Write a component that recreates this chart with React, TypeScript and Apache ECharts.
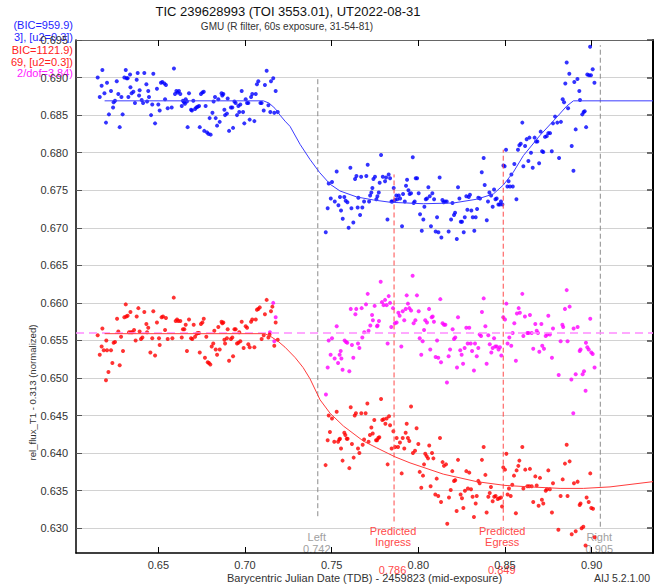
import React, { useEffect, useRef } from 'react';
import * as echarts from 'echarts';

const TITLE = 'TIC 239628993 (TOI 3553.01), UT2022-08-31';
const SUBTITLE = 'GMU (R filter, 60s exposure, 31-54-81)';
const X_NAME = 'Barycentric Julian Date (TDB) - 2459823 (mid-exposure)';
const Y_NAME = 'rel_flux_T1 - 0.313 (normalized)';
const VERSION = 'AIJ 5.2.1.00';

const X_TICKS = [0.65, 0.7, 0.75, 0.8, 0.85, 0.9];
const Y_TICKS = [0.63, 0.635, 0.64, 0.645, 0.65, 0.655, 0.66, 0.665, 0.67, 0.675, 0.68, 0.685, 0.69, 0.695];
const X_RANGE = [0.6025, 0.9354];
const Y_RANGE = [0.6267, 0.695];
const RESIDUAL_BASELINE = 0.656;

const LEGEND_LINES = [
  { text: '(BIC=959.9)', color: '#1f1fff' },
  { text: '3], [u2=0.3])', color: '#1f1fff' },
  { text: 'BIC=1121.9)', color: '#ff2020' },
  { text: '69, [u2=0.3])', color: '#ff2020' },
  { text: '2/dof=3.84)', color: '#ff20ff' },
];

// vertical markers: time, label lines, line extent (flux)
const MARKERS = [
  { t: 0.742, kind: 'edge', label: ['Left', '0.742'], lo: 0.6316, hi: 0.69 },
  { t: 0.786, kind: 'pred', label: ['Predicted', 'Ingress'], value: '0.786', lo: 0.6309, hi: 0.6771 },
  { t: 0.849, kind: 'pred', label: ['Predicted', 'Egress'], value: '0.849', lo: 0.631, hi: 0.6804 },
  { t: 0.905, kind: 'edge', label: ['Right', '0.905'], lo: 0.6302, hi: 0.6943 },
];

const BLUE_MODEL: [number, number][] = [
  [0.619, 0.6869], [0.7106, 0.6869], [0.7139, 0.6866], [0.7173, 0.6859], [0.7202, 0.685], [0.7231, 0.6842],
  [0.726, 0.6835], [0.7318, 0.6811], [0.7375, 0.6791], [0.7429, 0.6774], [0.7491, 0.6758], [0.7548, 0.6749],
  [0.7645, 0.6741], [0.7741, 0.6737], [0.7837, 0.6734], [0.8029, 0.6732], [0.8202, 0.6733], [0.8337, 0.6738],
  [0.8433, 0.6745], [0.8491, 0.6757], [0.8548, 0.6774], [0.8606, 0.6796], [0.8702, 0.6823], [0.8798, 0.6847],
  [0.8856, 0.6862], [0.8895, 0.6869], [0.9354, 0.6869],
];

const RED_MODEL: [number, number][] = [
  [0.619, 0.6559], [0.7115, 0.6559], [0.715, 0.6555], [0.719, 0.6549], [0.7231, 0.6541], [0.729, 0.6527],
  [0.7335, 0.6514], [0.7375, 0.6499], [0.7433, 0.6471], [0.7491, 0.6453], [0.7568, 0.6436], [0.7683, 0.6416],
  [0.776, 0.6407], [0.7866, 0.6395], [0.7952, 0.6387], [0.8144, 0.6372], [0.8337, 0.6362], [0.85, 0.6357],
  [0.8645, 0.6355], [0.8818, 0.6353], [0.8952, 0.6353], [0.9106, 0.6355], [0.9354, 0.6362],
];

const BLUE_PTS: [number, number][] = [
  [0.615, 0.69], [0.6162, 0.6874], [0.6173, 0.6889], [0.6177, 0.691], [0.6189, 0.6879], [0.6198, 0.684], [0.6204, 0.6893],
  [0.6215, 0.6851], [0.6227, 0.6882], [0.6239, 0.686], [0.6242, 0.6867], [0.625, 0.6869], [0.626, 0.6895], [0.6269, 0.6878],
  [0.6277, 0.6834], [0.6287, 0.6874], [0.6294, 0.6851], [0.6304, 0.69], [0.6312, 0.691], [0.6317, 0.6899], [0.6323, 0.6899],
  [0.6327, 0.6874], [0.6337, 0.6904], [0.6339, 0.6887], [0.6346, 0.6879], [0.6356, 0.6881], [0.6365, 0.6866], [0.6375, 0.6897],
  [0.6381, 0.6906], [0.6389, 0.6876], [0.6392, 0.6883], [0.6404, 0.687], [0.6412, 0.6866], [0.6419, 0.6906], [0.6431, 0.6891],
  [0.6435, 0.6868], [0.6442, 0.6882], [0.6446, 0.6874], [0.6458, 0.685], [0.6465, 0.6864], [0.6471, 0.6905], [0.6481, 0.6839],
  [0.6492, 0.6885], [0.65, 0.6864], [0.6508, 0.6856], [0.6515, 0.6893], [0.6523, 0.6894], [0.6535, 0.6892], [0.6539, 0.6871],
  [0.6544, 0.689], [0.6554, 0.6859], [0.6577, 0.686], [0.659, 0.6912], [0.6596, 0.6878], [0.6604, 0.6882], [0.6612, 0.688],
  [0.6619, 0.6882], [0.6627, 0.6878], [0.6635, 0.6862], [0.6642, 0.6869], [0.6648, 0.6867], [0.6654, 0.6865], [0.6658, 0.6871],
  [0.6665, 0.6868], [0.6669, 0.6834], [0.6677, 0.6879], [0.6689, 0.6857], [0.6694, 0.6856], [0.6702, 0.6869], [0.6712, 0.6858],
  [0.6719, 0.686], [0.6727, 0.6861], [0.6735, 0.6862], [0.6739, 0.6834], [0.6746, 0.6878], [0.6754, 0.688], [0.6762, 0.6881],
  [0.6765, 0.6829], [0.6773, 0.6862], [0.6781, 0.6827], [0.6789, 0.6825], [0.6796, 0.6846], [0.6802, 0.6824], [0.6812, 0.6853],
  [0.6819, 0.6868], [0.6827, 0.6874], [0.6831, 0.6846], [0.6839, 0.6836], [0.6846, 0.6871], [0.6854, 0.6841], [0.6865, 0.6879],
  [0.6869, 0.6876], [0.6875, 0.6878], [0.6881, 0.6857], [0.6885, 0.685], [0.6896, 0.6852], [0.69, 0.6872], [0.6908, 0.6829],
  [0.6919, 0.686], [0.6927, 0.686], [0.6931, 0.6833], [0.6939, 0.6868], [0.6946, 0.6866], [0.6954, 0.685], [0.6962, 0.6862],
  [0.6967, 0.6854], [0.6973, 0.6864], [0.6981, 0.6882], [0.6989, 0.6854], [0.6996, 0.6839], [0.7004, 0.6871], [0.7012, 0.6866],
  [0.7019, 0.6866], [0.7027, 0.6844], [0.7035, 0.6874], [0.7042, 0.6878], [0.7054, 0.6842], [0.7062, 0.6878], [0.7069, 0.6891],
  [0.7077, 0.6895], [0.7089, 0.6866], [0.7096, 0.6866], [0.7108, 0.6856], [0.7115, 0.689], [0.7125, 0.6909], [0.7135, 0.6863],
  [0.7146, 0.6854], [0.715, 0.6895], [0.7163, 0.6899], [0.7169, 0.6853], [0.7177, 0.6882], [0.7189, 0.6854],
  [0.7466, 0.6694], [0.7477, 0.6726], [0.7483, 0.6759], [0.7495, 0.6739], [0.7502, 0.6761], [0.7518, 0.6735], [0.7529, 0.6775],
  [0.7539, 0.673], [0.7548, 0.6741], [0.7554, 0.6723], [0.7564, 0.6712], [0.7573, 0.6741], [0.7581, 0.6736], [0.7591, 0.6734],
  [0.7598, 0.67], [0.7608, 0.678], [0.7614, 0.6726], [0.7625, 0.6707], [0.7635, 0.6765], [0.7643, 0.6769], [0.765, 0.6727],
  [0.7654, 0.674], [0.7664, 0.6717], [0.767, 0.6768], [0.7677, 0.6727], [0.7687, 0.6735], [0.77, 0.6769], [0.7708, 0.6784],
  [0.7716, 0.6735], [0.7722, 0.6743], [0.7729, 0.6747], [0.7735, 0.6753], [0.7741, 0.6765], [0.775, 0.6768], [0.7758, 0.6738],
  [0.7764, 0.6742], [0.7772, 0.6747], [0.7777, 0.676], [0.7785, 0.6797], [0.7795, 0.6768], [0.7808, 0.6762], [0.7814, 0.6767],
  [0.7822, 0.6711], [0.7829, 0.6771], [0.7837, 0.6766], [0.7845, 0.6735], [0.785, 0.6735], [0.7858, 0.6753], [0.7866, 0.6737],
  [0.7873, 0.6743], [0.7879, 0.6738], [0.7887, 0.6743], [0.7895, 0.6739], [0.7906, 0.6702], [0.7912, 0.6745], [0.7922, 0.6735],
  [0.7929, 0.6756], [0.7935, 0.6764], [0.7943, 0.675], [0.795, 0.6745], [0.7958, 0.6746], [0.7968, 0.6794], [0.7973, 0.6733],
  [0.7979, 0.6735], [0.7985, 0.6766], [0.7993, 0.6766], [0.8002, 0.6746], [0.801, 0.6718], [0.802, 0.6696], [0.8029, 0.6711],
  [0.8035, 0.6728], [0.8043, 0.6738], [0.805, 0.6739], [0.8058, 0.6754], [0.8066, 0.6742], [0.8073, 0.6702], [0.8081, 0.6746],
  [0.8091, 0.6738], [0.81, 0.6695], [0.8108, 0.6714], [0.8116, 0.6694], [0.8123, 0.6767], [0.8133, 0.6687], [0.8139, 0.6737],
  [0.8146, 0.6734], [0.8154, 0.6735], [0.8164, 0.6735], [0.8175, 0.6695], [0.8189, 0.6711], [0.8197, 0.6733], [0.8206, 0.6717],
  [0.8212, 0.672], [0.8222, 0.6685], [0.8229, 0.6754], [0.8237, 0.6739], [0.8245, 0.6708], [0.8252, 0.6708], [0.8262, 0.6694],
  [0.8268, 0.6714], [0.8277, 0.6742], [0.8283, 0.6724], [0.8291, 0.6741], [0.8298, 0.6744], [0.8306, 0.6723], [0.8314, 0.6714],
  [0.8323, 0.6696], [0.8331, 0.6714], [0.8339, 0.6725], [0.8346, 0.674], [0.8356, 0.6739], [0.8366, 0.6774], [0.8377, 0.6793],
  [0.8383, 0.6757], [0.8395, 0.671], [0.8402, 0.6735], [0.841, 0.6747], [0.842, 0.6743], [0.8429, 0.6728], [0.8437, 0.6751],
  [0.8445, 0.6738], [0.8452, 0.6739], [0.8462, 0.6731], [0.847, 0.6731], [0.8477, 0.6735], [0.8485, 0.6731], [0.8491, 0.6783],
  [0.8498, 0.6782], [0.8506, 0.6804], [0.8514, 0.6755], [0.8521, 0.6762], [0.8529, 0.6755], [0.8537, 0.6771], [0.8545, 0.6755],
  [0.8554, 0.6785], [0.8566, 0.6738], [0.8575, 0.6804], [0.8583, 0.681], [0.8591, 0.6812], [0.86, 0.684], [0.8606, 0.6782],
  [0.8616, 0.6809], [0.8625, 0.6818], [0.8635, 0.6789], [0.8641, 0.682], [0.865, 0.68], [0.866, 0.678], [0.8671, 0.682],
  [0.8679, 0.6815], [0.8687, 0.6815], [0.8697, 0.6786], [0.8706, 0.6828], [0.8714, 0.6802], [0.8721, 0.6801], [0.8731, 0.6821],
  [0.8741, 0.6822], [0.875, 0.6826], [0.876, 0.6826], [0.877, 0.6802], [0.8777, 0.6839], [0.8789, 0.6848], [0.8802, 0.684],
  [0.8812, 0.6793], [0.8823, 0.6841], [0.8833, 0.6871], [0.8841, 0.6867], [0.8848, 0.6892], [0.8856, 0.692], [0.8864, 0.6859],
  [0.8871, 0.6905], [0.8885, 0.6809], [0.8895, 0.6776], [0.89, 0.6894], [0.8908, 0.6831], [0.8918, 0.6898], [0.8929, 0.6882],
  [0.8933, 0.687], [0.8946, 0.6851], [0.8954, 0.6854], [0.896, 0.6855], [0.8968, 0.6834], [0.8975, 0.6904], [0.8985, 0.6903],
  [0.8991, 0.6941], [0.8996, 0.6903], [0.9006, 0.6911], [0.9016, 0.6893],
];

const RED_PTS: [number, number][] = [
  [0.615, 0.6557], [0.6162, 0.6531], [0.6173, 0.6542], [0.6177, 0.6566], [0.6185, 0.6537], [0.6198, 0.6497], [0.62, 0.655],
  [0.6204, 0.6537], [0.6212, 0.6508], [0.6227, 0.6537], [0.6235, 0.652], [0.6242, 0.6547], [0.625, 0.6548], [0.6262, 0.6579],
  [0.6269, 0.6562], [0.6277, 0.6517], [0.6285, 0.6555], [0.6296, 0.6536], [0.6304, 0.6581], [0.6312, 0.6598], [0.6315, 0.6582],
  [0.6323, 0.6583], [0.6331, 0.6561], [0.6339, 0.6588], [0.6342, 0.6561], [0.635, 0.6561], [0.636, 0.6564], [0.6369, 0.655],
  [0.6375, 0.6582], [0.6385, 0.6593], [0.6392, 0.6562], [0.64, 0.6552], [0.6408, 0.6554], [0.6419, 0.6588], [0.6431, 0.6572],
  [0.6435, 0.6561], [0.6442, 0.6567], [0.6454, 0.6534], [0.6465, 0.6553], [0.6471, 0.6589], [0.6481, 0.653], [0.6492, 0.6574],
  [0.6504, 0.6553], [0.6508, 0.6544], [0.6519, 0.6581], [0.6527, 0.6582], [0.6539, 0.6564], [0.6544, 0.658], [0.6554, 0.6552],
  [0.6581, 0.6553], [0.6589, 0.6607], [0.66, 0.6576], [0.6608, 0.6578], [0.6615, 0.6576], [0.6627, 0.6576], [0.6635, 0.6554],
  [0.6642, 0.6565], [0.665, 0.6565], [0.6658, 0.6571], [0.6665, 0.6536], [0.6677, 0.6578], [0.6689, 0.6553], [0.6696, 0.6552],
  [0.6704, 0.6571], [0.6712, 0.6555], [0.6721, 0.6559], [0.6727, 0.656], [0.6735, 0.656], [0.6739, 0.6534], [0.6746, 0.6572],
  [0.6754, 0.6574], [0.6762, 0.6579], [0.6769, 0.6527], [0.6777, 0.6555], [0.6785, 0.6521], [0.6792, 0.652], [0.68, 0.6518],
  [0.6808, 0.6542], [0.6817, 0.6546], [0.6823, 0.6563], [0.6831, 0.6538], [0.6839, 0.6531], [0.6846, 0.6568], [0.6854, 0.6538],
  [0.6865, 0.6575], [0.6869, 0.6573], [0.6875, 0.6574], [0.6881, 0.6551], [0.6885, 0.6546], [0.6896, 0.6553], [0.69, 0.6565],
  [0.6908, 0.6523], [0.6919, 0.6552], [0.6927, 0.6554], [0.6931, 0.6529], [0.6939, 0.6565], [0.6946, 0.6565], [0.6954, 0.6546],
  [0.6962, 0.6547], [0.6967, 0.6561], [0.6973, 0.6549], [0.6981, 0.6575], [0.6992, 0.654], [0.7004, 0.6569], [0.7012, 0.6567],
  [0.7019, 0.6545], [0.7027, 0.6541], [0.7035, 0.6575], [0.7042, 0.6578], [0.7054, 0.6541], [0.7062, 0.6578], [0.7069, 0.6591],
  [0.7077, 0.6592], [0.7085, 0.6594], [0.7096, 0.6552], [0.7108, 0.6557], [0.7115, 0.6585], [0.7125, 0.6604], [0.7135, 0.6554],
  [0.7142, 0.6558], [0.715, 0.6589], [0.7158, 0.6595], [0.7169, 0.6543], [0.7177, 0.6574], [0.7189, 0.6551],
  [0.7465, 0.6384], [0.7477, 0.6417], [0.7483, 0.645], [0.749, 0.6428], [0.7502, 0.6446], [0.7515, 0.6415], [0.7529, 0.6455],
  [0.7537, 0.6415], [0.7544, 0.6418], [0.7548, 0.6419], [0.7554, 0.6406], [0.7563, 0.639], [0.7573, 0.6427], [0.7579, 0.6424],
  [0.7587, 0.6419], [0.7592, 0.6419], [0.7602, 0.638], [0.761, 0.6461], [0.7617, 0.6412], [0.7627, 0.6394], [0.7633, 0.645],
  [0.764, 0.6453], [0.7652, 0.6406], [0.766, 0.64], [0.7671, 0.6453], [0.7679, 0.6411], [0.7687, 0.6418], [0.7696, 0.6453],
  [0.7706, 0.6466], [0.7713, 0.6415], [0.7721, 0.6424], [0.7729, 0.6434], [0.7737, 0.6426], [0.7746, 0.6444], [0.7756, 0.6417],
  [0.7762, 0.6417], [0.7769, 0.642], [0.7775, 0.6421], [0.7785, 0.6472], [0.7792, 0.6444], [0.78, 0.6445], [0.781, 0.6439],
  [0.7817, 0.6446], [0.7823, 0.6385], [0.7831, 0.6449], [0.7837, 0.6437], [0.7846, 0.6406], [0.7856, 0.6429], [0.7867, 0.6408],
  [0.7875, 0.642], [0.7883, 0.6408], [0.7894, 0.6414], [0.7904, 0.6373], [0.791, 0.642], [0.7919, 0.6406], [0.7927, 0.6427],
  [0.7933, 0.6439], [0.794, 0.642], [0.7948, 0.6416], [0.7958, 0.6462], [0.7969, 0.64], [0.7981, 0.6403], [0.799, 0.6433],
  [0.8, 0.6412], [0.8008, 0.6375], [0.8017, 0.6354], [0.8027, 0.637], [0.8033, 0.6385], [0.804, 0.6399], [0.8048, 0.6396],
  [0.8056, 0.6393], [0.8063, 0.641], [0.8071, 0.6356], [0.8079, 0.64], [0.8087, 0.6393], [0.8098, 0.6345], [0.8106, 0.6366],
  [0.8115, 0.6343], [0.8125, 0.642], [0.8131, 0.6335], [0.814, 0.6388], [0.8148, 0.6383], [0.816, 0.6385], [0.8167, 0.6306],
  [0.8177, 0.6341], [0.8187, 0.6351], [0.8196, 0.6376], [0.8206, 0.6363], [0.8213, 0.6364], [0.8221, 0.6323], [0.8229, 0.6391],
  [0.8244, 0.6345], [0.8252, 0.634], [0.826, 0.6327], [0.8269, 0.635], [0.8277, 0.6376], [0.8286, 0.6353], [0.8294, 0.6374],
  [0.8304, 0.6352], [0.8313, 0.6342], [0.8321, 0.6315], [0.8331, 0.6333], [0.8337, 0.6343], [0.8346, 0.6363], [0.8354, 0.636],
  [0.8367, 0.6391], [0.8377, 0.6408], [0.8387, 0.6371], [0.8394, 0.6321], [0.8404, 0.6342], [0.8412, 0.6347], [0.8419, 0.6355],
  [0.8429, 0.6336], [0.8438, 0.6342], [0.8446, 0.6343], [0.8458, 0.6339], [0.8467, 0.634], [0.8477, 0.6341], [0.8483, 0.6329],
  [0.849, 0.6381], [0.85, 0.6378], [0.8508, 0.6399], [0.8515, 0.6345], [0.8523, 0.6353], [0.8533, 0.6343], [0.8542, 0.6358],
  [0.8552, 0.637], [0.8563, 0.632], [0.8567, 0.6377], [0.8577, 0.6383], [0.8583, 0.639], [0.86, 0.6408], [0.8606, 0.6353],
  [0.8617, 0.6378], [0.8629, 0.6356], [0.864, 0.6356], [0.8644, 0.6379], [0.8654, 0.6356], [0.8663, 0.6335], [0.8675, 0.6369],
  [0.8683, 0.6357], [0.8694, 0.633], [0.8702, 0.6367], [0.8713, 0.6338], [0.8721, 0.6333], [0.8735, 0.635], [0.8742, 0.6352],
  [0.875, 0.6377], [0.8759, 0.6352], [0.8771, 0.6321], [0.8777, 0.636], [0.8808, 0.6298], [0.8821, 0.6343], [0.8833, 0.6365],
  [0.8846, 0.6386], [0.8856, 0.6411], [0.8861, 0.6343], [0.8873, 0.6389], [0.8885, 0.6292], [0.8898, 0.636], [0.8908, 0.6296],
  [0.8919, 0.6362], [0.8931, 0.6331], [0.8936, 0.6333], [0.8942, 0.63], [0.8952, 0.6302], [0.8965, 0.6277], [0.8971, 0.6341],
  [0.8983, 0.6335], [0.8992, 0.6373], [0.8998, 0.6327], [0.9008, 0.6326], [0.9017, 0.6288],
];

const MAGENTA_PTS: [number, number][] = [
  [0.7144, 0.6561], [0.7163, 0.66], [0.7169, 0.6549], [0.7177, 0.6581],
  [0.7467, 0.6478], [0.7477, 0.6514], [0.7483, 0.655], [0.7494, 0.6531], [0.7502, 0.6553], [0.7517, 0.6526], [0.7529, 0.6569],
  [0.7537, 0.652], [0.7546, 0.6531], [0.7552, 0.6536], [0.7556, 0.6526], [0.7563, 0.6511], [0.7575, 0.655], [0.7583, 0.6548],
  [0.759, 0.6547], [0.7602, 0.6509], [0.761, 0.6592], [0.7617, 0.6544], [0.7625, 0.6527], [0.7637, 0.6585], [0.7642, 0.6592],
  [0.7652, 0.6546], [0.766, 0.654], [0.7673, 0.6593], [0.7677, 0.6554], [0.7688, 0.6561], [0.7698, 0.6598], [0.7708, 0.6612],
  [0.7713, 0.6563], [0.7723, 0.657], [0.7733, 0.6584], [0.7738, 0.6577], [0.7748, 0.6596], [0.7762, 0.6569], [0.7765, 0.657],
  [0.7773, 0.6576], [0.7783, 0.6628], [0.779, 0.6601], [0.78, 0.6597], [0.7808, 0.6604], [0.7817, 0.6597], [0.7823, 0.6546],
  [0.7829, 0.6609], [0.7837, 0.66], [0.7844, 0.6568], [0.7854, 0.6593], [0.7865, 0.6573], [0.7875, 0.6574], [0.7885, 0.6587],
  [0.7892, 0.6583], [0.7902, 0.6542], [0.791, 0.6589], [0.7919, 0.6577], [0.7927, 0.6592], [0.7933, 0.661], [0.794, 0.6599],
  [0.7948, 0.6593], [0.7958, 0.659], [0.7967, 0.6636], [0.7973, 0.6573], [0.7983, 0.6577], [0.7992, 0.661], [0.8002, 0.6589],
  [0.8008, 0.6553], [0.8017, 0.6531], [0.8025, 0.6549], [0.8033, 0.6564], [0.804, 0.6577], [0.805, 0.6574], [0.8062, 0.6592],
  [0.8069, 0.6538], [0.8077, 0.6581], [0.8083, 0.6582], [0.809, 0.6575], [0.81, 0.6528], [0.8108, 0.655], [0.8115, 0.6527],
  [0.8127, 0.6605], [0.8131, 0.6521], [0.814, 0.6573], [0.8148, 0.6571], [0.8156, 0.6571], [0.8165, 0.6494], [0.8175, 0.6529],
  [0.8183, 0.6538], [0.8198, 0.6565], [0.8206, 0.6552], [0.8213, 0.6554], [0.8223, 0.6514], [0.8229, 0.6581], [0.8242, 0.6537],
  [0.825, 0.6531], [0.8258, 0.6519], [0.8267, 0.654], [0.8277, 0.6567], [0.8285, 0.6546], [0.8294, 0.6567], [0.8302, 0.6546],
  [0.831, 0.6536], [0.8321, 0.651], [0.8327, 0.6546], [0.8337, 0.6529], [0.8346, 0.654], [0.8354, 0.6558], [0.8362, 0.6556],
  [0.8367, 0.6588], [0.8377, 0.6606], [0.8387, 0.6569], [0.8394, 0.6519], [0.8404, 0.6557], [0.8412, 0.6545], [0.8421, 0.6534],
  [0.8429, 0.654], [0.8437, 0.6553], [0.8444, 0.6542], [0.8452, 0.6542], [0.8463, 0.6538], [0.8471, 0.6541], [0.8479, 0.653],
  [0.849, 0.6581], [0.85, 0.6578], [0.8508, 0.6599], [0.8515, 0.6546], [0.8525, 0.6554], [0.8536, 0.6543], [0.8544, 0.656],
  [0.8554, 0.6573], [0.8563, 0.6523], [0.8569, 0.6586], [0.8579, 0.6593], [0.8586, 0.6587], [0.86, 0.6612], [0.8606, 0.6556],
  [0.8615, 0.6582], [0.8629, 0.656], [0.8636, 0.656], [0.8644, 0.6584], [0.8654, 0.656], [0.8663, 0.6539], [0.8675, 0.6572],
  [0.8683, 0.6563], [0.869, 0.656], [0.8698, 0.6535], [0.871, 0.6572], [0.8715, 0.6543], [0.8725, 0.6539], [0.8735, 0.6556],
  [0.8744, 0.6558], [0.875, 0.6583], [0.8759, 0.6558], [0.8771, 0.6527], [0.8777, 0.6566], [0.881, 0.6504], [0.8821, 0.6549],
  [0.8831, 0.6571], [0.8836, 0.6568], [0.8846, 0.6592], [0.8856, 0.6617], [0.8861, 0.6549], [0.8873, 0.6595], [0.8883, 0.6498],
  [0.8894, 0.6453], [0.8896, 0.6566], [0.8908, 0.6505], [0.8919, 0.6568], [0.8931, 0.6536], [0.8936, 0.6538], [0.8948, 0.6505],
  [0.8956, 0.6509], [0.8965, 0.6483], [0.8967, 0.6547], [0.8975, 0.6541], [0.8983, 0.6538], [0.8992, 0.6579], [0.8998, 0.6534],
  [0.9006, 0.6532], [0.9017, 0.6514],
];

const FONT = '"Liberation Sans", Arial, Helvetica, sans-serif';

export default function App() {
  const ref = useRef<HTMLDivElement>(null);

  useEffect(() => {
    if (!ref.current) return;
    const chart = echarts.init(ref.current, null, { renderer: 'svg' });

    const series: any[] = [];
    MARKERS.forEach((m) => {
      series.push({
        type: 'line',
        data: [[m.t, m.lo], [m.t, m.hi]],
        showSymbol: false,
        silent: true,
        lineStyle: { color: m.kind === 'edge' ? '#8a8a8a' : '#ff4a4a', width: 1, type: [5, 3] },
      });
    });
    series.push({
      type: 'line',
      data: [[X_RANGE[0], RESIDUAL_BASELINE], [X_RANGE[1], RESIDUAL_BASELINE]],
      showSymbol: false,
      silent: true,
      lineStyle: { color: '#ff8cff', width: 1.5, type: [8, 5] },
    });
    series.push({
      type: 'scatter', data: MAGENTA_PTS, symbol: 'circle', symbolSize: 4,
      itemStyle: { color: '#ff00ff' }, silent: true,
    });
    series.push({
      type: 'line', data: RED_MODEL, showSymbol: false, silent: true,
      lineStyle: { color: '#ff3c3c', width: 1 },
    });
    series.push({
      type: 'scatter', data: RED_PTS, symbol: 'circle', symbolSize: 4,
      itemStyle: { color: '#ff0000' }, silent: true,
    });
    series.push({
      type: 'line', data: BLUE_MODEL, showSymbol: false, silent: true,
      lineStyle: { color: '#3c3cff', width: 1 },
    });
    series.push({
      type: 'scatter', data: BLUE_PTS, symbol: 'circle', symbolSize: 4,
      itemStyle: { color: '#0000ff' }, silent: true,
    });

    const option: any = {
      animation: false,
      backgroundColor: '#ffffff',
      textStyle: { fontFamily: FONT },
      grid: { left: 76, right: 12, top: 40, bottom: 34, containLabel: false },
      xAxis: [
        {
          type: 'value', position: 'bottom', min: X_RANGE[0], max: X_RANGE[1],
          axisLine: { show: true, lineStyle: { color: '#000', width: 1.5 } },
          axisTick: { show: true, inside: true, length: 6, customValues: X_TICKS, lineStyle: { color: '#000', width: 1 } },
          axisLabel: {
            show: true, customValues: X_TICKS, margin: 6, color: '#333', fontSize: 11, fontFamily: FONT,
            formatter: (v: number) => v.toFixed(2),
          },
          splitLine: { show: false },
        },
        {
          type: 'value', position: 'top', min: X_RANGE[0], max: X_RANGE[1],
          axisLine: { show: true, onZero: false, lineStyle: { color: '#666', width: 1 } },
          axisTick: { show: true, inside: true, length: 6, customValues: X_TICKS, lineStyle: { color: '#000', width: 1 } },
          axisLabel: { show: false },
          splitLine: { show: false },
        },
      ],
      yAxis: [
        {
          type: 'value', position: 'left', min: Y_RANGE[0], max: Y_RANGE[1],
          axisLine: { show: true, onZero: false, lineStyle: { color: '#000', width: 1.5 } },
          axisTick: { show: true, inside: true, length: 6, customValues: Y_TICKS, lineStyle: { color: '#555', width: 1 } },
          axisLabel: {
            show: true, customValues: Y_TICKS, margin: 8, color: '#333', fontSize: 11, fontFamily: FONT,
            formatter: (v: number) => v.toFixed(3),
          },
          splitLine: { show: true, lineStyle: { color: '#d2d2d2', width: 1.2 } },
        },
        {
          type: 'value', position: 'right', min: Y_RANGE[0], max: Y_RANGE[1],
          axisLine: { show: true, onZero: false, lineStyle: { color: '#000', width: 2 } },
          axisTick: { show: true, inside: true, length: 6, customValues: Y_TICKS, lineStyle: { color: '#444', width: 1.5 } },
          axisLabel: { show: false },
          splitLine: { show: false },
        },
      ],
      series,
    };
    chart.setOption(option);

    const bottomPx = chart.convertToPixel({ yAxisIndex: 0 }, Y_RANGE[0]) as number;
    const leftPx = chart.convertToPixel({ xAxisIndex: 0 }, X_RANGE[0]) as number;
    const rightPx = chart.convertToPixel({ xAxisIndex: 0 }, X_RANGE[1]) as number;
    const topPx = chart.convertToPixel({ yAxisIndex: 0 }, Y_RANGE[1]) as number;

    const graphic: any[] = [];
    const txt = (text: string, x: number, y: number, size: number, color: string, align = 'center', extra: any = {}) => ({
      type: 'text', x, y, silent: true, ...extra,
      style: { text, fill: color, font: `${size}px ${FONT}`, textAlign: align, textVerticalAlign: 'middle' },
    });

    graphic.push(txt(TITLE, 288, 11, 13, '#111'));
    graphic.push(txt(SUBTITLE, 287, 26, 10, '#333'));
    LEGEND_LINES.forEach((l, i) => {
      const ys = [25, 37, 50, 62, 73];
      graphic.push(txt(l.text, 73, ys[i], 11, l.color, 'right'));
    });
    graphic.push(txt(Y_NAME, 32, (topPx + bottomPx) / 2 + 96, 9.6, '#333', 'center', { rotation: Math.PI / 2 }));
    graphic.push(txt(X_NAME, (leftPx + rightPx) / 2, 578, 11, '#333'));
    graphic.push(txt(VERSION, 622, 578, 10.5, '#333'));

    MARKERS.forEach((m) => {
      const x = chart.convertToPixel({ xAxisIndex: 0 }, m.t) as number;
      if (m.kind === 'edge') {
        graphic.push(txt(m.label[0], x - 1, bottomPx - 16.5, 11, '#a0a0a0'));
        graphic.push(txt(m.label[1], x - 1, bottomPx - 4, 11, '#a0a0a0'));
      } else {
        graphic.push(txt(m.label[0], x - 1, bottomPx - 22.5, 11, '#ff4a4a'));
        graphic.push(txt(m.label[1], x - 1, bottomPx - 11, 11, '#ff4a4a'));
        graphic.push(txt(m.value as string, x - 1.5, bottomPx + 16.5, 11, '#ff4a4a'));
      }
    });

    chart.setOption({ graphic });

    return () => chart.dispose();
  }, []);

  return (
    <div
      ref={ref}
      style={{ position: 'fixed', left: 0, top: 0, width: 665, height: 587, background: '#fff' }}
    />
  );
}
